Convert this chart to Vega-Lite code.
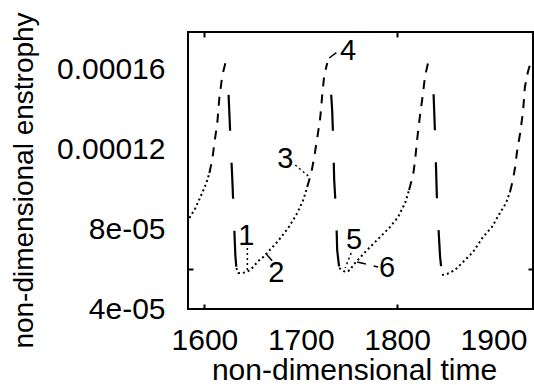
{
  "$schema": "https://vega.github.io/schema/vega-lite/v6.json",
  "autosize": "none",
  "width": 345,
  "height": 277,
  "padding": {"left": 188, "top": 32, "right": 1, "bottom": 76},
  "background": "white",
  "config": {
    "view": {"stroke": "black", "strokeWidth": 2},
    "font": "Liberation Sans",
    "axis": {"grid": false, "domain": false, "labelColor": "black", "titleColor": "black", "tickColor": "black", "labelFont": "Liberation Sans", "titleFont": "Liberation Sans", "titleFontWeight": "normal", "tickWidth": 2}
  },
  "datasets": {
    "curve": [
      {"seg": "A", "kind": "slow", "t": 1584.5, "v": 8.55e-5},
      {"seg": "A", "kind": "slow", "t": 1590.7, "v": 9.05e-5},
      {"seg": "A", "kind": "slow", "t": 1595.9, "v": 9.6e-5},
      {"seg": "A", "kind": "slow", "t": 1602.1, "v": 1.03e-4},
      {"seg": "A", "kind": "slow", "t": 1605.2, "v": 1.08e-4},
      {"seg": "B", "kind": "fast", "t": 1605.2, "v": 1.08e-4},
      {"seg": "B", "kind": "fast", "t": 1608.3, "v": 1.15e-4},
      {"seg": "B", "kind": "fast", "t": 1610.4, "v": 1.23e-4},
      {"seg": "B", "kind": "fast", "t": 1613.5, "v": 1.335e-4},
      {"seg": "B", "kind": "fast", "t": 1615.5, "v": 1.455e-4},
      {"seg": "B", "kind": "fast", "t": 1618.7, "v": 1.57e-4},
      {"seg": "B", "kind": "fast", "t": 1621.8, "v": 1.63e-4},
      {"seg": "C", "kind": "drop", "t": 1621.8, "v": 1.63e-4},
      {"seg": "C", "kind": "drop", "t": 1624.9, "v": 1.495e-4},
      {"seg": "C", "kind": "drop", "t": 1626.9, "v": 1.27e-4},
      {"seg": "C", "kind": "drop", "t": 1629.0, "v": 1.045e-4},
      {"seg": "C", "kind": "drop", "t": 1631.1, "v": 7.95e-5},
      {"seg": "C", "kind": "drop", "t": 1632.1, "v": 6.7e-5},
      {"seg": "C", "kind": "drop", "t": 1633.2, "v": 6.05e-5},
      {"seg": "D", "kind": "slow", "t": 1633.2, "v": 6.05e-5},
      {"seg": "D", "kind": "slow", "t": 1635.2, "v": 5.8e-5},
      {"seg": "D", "kind": "slow", "t": 1639.4, "v": 5.8e-5},
      {"seg": "D", "kind": "slow", "t": 1643.5, "v": 5.85e-5},
      {"seg": "D", "kind": "slow", "t": 1647.7, "v": 5.95e-5},
      {"seg": "D", "kind": "slow", "t": 1656.0, "v": 6.4e-5},
      {"seg": "D", "kind": "slow", "t": 1661.1, "v": 6.6e-5},
      {"seg": "D", "kind": "slow", "t": 1675.6, "v": 7.35e-5},
      {"seg": "D", "kind": "slow", "t": 1687.0, "v": 8.05e-5},
      {"seg": "D", "kind": "slow", "t": 1696.4, "v": 8.8e-5},
      {"seg": "D", "kind": "slow", "t": 1702.6, "v": 9.45e-5},
      {"seg": "D", "kind": "slow", "t": 1706.7, "v": 1.01e-4},
      {"seg": "E", "kind": "fast", "t": 1706.7, "v": 1.01e-4},
      {"seg": "E", "kind": "fast", "t": 1710.9, "v": 1.08e-4},
      {"seg": "E", "kind": "fast", "t": 1714.0, "v": 1.16e-4},
      {"seg": "E", "kind": "fast", "t": 1717.1, "v": 1.255e-4},
      {"seg": "E", "kind": "fast", "t": 1720.2, "v": 1.355e-4},
      {"seg": "E", "kind": "fast", "t": 1722.3, "v": 1.47e-4},
      {"seg": "E", "kind": "fast", "t": 1724.4, "v": 1.57e-4},
      {"seg": "E", "kind": "fast", "t": 1727.5, "v": 1.63e-4},
      {"seg": "F", "kind": "drop", "t": 1727.5, "v": 1.63e-4},
      {"seg": "F", "kind": "drop", "t": 1730.6, "v": 1.545e-4},
      {"seg": "F", "kind": "drop", "t": 1732.6, "v": 1.395e-4},
      {"seg": "F", "kind": "drop", "t": 1733.7, "v": 1.245e-4},
      {"seg": "F", "kind": "drop", "t": 1734.7, "v": 1.045e-4},
      {"seg": "F", "kind": "drop", "t": 1736.8, "v": 8.7e-5},
      {"seg": "F", "kind": "drop", "t": 1737.8, "v": 6.95e-5},
      {"seg": "F", "kind": "drop", "t": 1739.9, "v": 6.05e-5},
      {"seg": "G", "kind": "slow", "t": 1739.9, "v": 6.05e-5},
      {"seg": "G", "kind": "slow", "t": 1746.1, "v": 5.85e-5},
      {"seg": "G", "kind": "slow", "t": 1751.3, "v": 5.95e-5},
      {"seg": "G", "kind": "slow", "t": 1754.4, "v": 6.2e-5},
      {"seg": "G", "kind": "slow", "t": 1768.9, "v": 6.95e-5},
      {"seg": "G", "kind": "slow", "t": 1782.4, "v": 7.6e-5},
      {"seg": "G", "kind": "slow", "t": 1792.7, "v": 8.1e-5},
      {"seg": "G", "kind": "slow", "t": 1801.0, "v": 8.6e-5},
      {"seg": "G", "kind": "slow", "t": 1808.3, "v": 9.3e-5},
      {"seg": "G", "kind": "slow", "t": 1812.4, "v": 9.95e-5},
      {"seg": "H", "kind": "fast", "t": 1812.4, "v": 9.95e-5},
      {"seg": "H", "kind": "fast", "t": 1816.6, "v": 1.07e-4},
      {"seg": "H", "kind": "fast", "t": 1818.7, "v": 1.145e-4},
      {"seg": "H", "kind": "fast", "t": 1820.7, "v": 1.245e-4},
      {"seg": "H", "kind": "fast", "t": 1823.8, "v": 1.37e-4},
      {"seg": "H", "kind": "fast", "t": 1826.9, "v": 1.48e-4},
      {"seg": "H", "kind": "fast", "t": 1829.0, "v": 1.565e-4},
      {"seg": "H", "kind": "fast", "t": 1832.1, "v": 1.63e-4},
      {"seg": "I", "kind": "drop", "t": 1832.1, "v": 1.63e-4},
      {"seg": "I", "kind": "drop", "t": 1837.3, "v": 1.545e-4},
      {"seg": "I", "kind": "drop", "t": 1839.4, "v": 1.27e-4},
      {"seg": "I", "kind": "drop", "t": 1841.5, "v": 9.2e-5},
      {"seg": "I", "kind": "drop", "t": 1844.6, "v": 6.6e-5},
      {"seg": "I", "kind": "drop", "t": 1846.6, "v": 5.7e-5},
      {"seg": "J", "kind": "slow", "t": 1846.6, "v": 5.7e-5},
      {"seg": "J", "kind": "slow", "t": 1851.8, "v": 5.75e-5},
      {"seg": "J", "kind": "slow", "t": 1858.0, "v": 5.9e-5},
      {"seg": "J", "kind": "slow", "t": 1862.2, "v": 6.05e-5},
      {"seg": "J", "kind": "slow", "t": 1868.4, "v": 6.35e-5},
      {"seg": "J", "kind": "slow", "t": 1878.8, "v": 6.85e-5},
      {"seg": "J", "kind": "slow", "t": 1889.1, "v": 7.6e-5},
      {"seg": "J", "kind": "slow", "t": 1898.4, "v": 8.1e-5},
      {"seg": "J", "kind": "slow", "t": 1906.7, "v": 8.8e-5},
      {"seg": "J", "kind": "slow", "t": 1913.0, "v": 9.3e-5},
      {"seg": "J", "kind": "slow", "t": 1917.1, "v": 9.85e-5},
      {"seg": "K", "kind": "fast", "t": 1917.1, "v": 9.85e-5},
      {"seg": "K", "kind": "fast", "t": 1920.2, "v": 1.045e-4},
      {"seg": "K", "kind": "fast", "t": 1922.3, "v": 1.105e-4},
      {"seg": "K", "kind": "fast", "t": 1924.4, "v": 1.185e-4},
      {"seg": "K", "kind": "fast", "t": 1927.5, "v": 1.275e-4},
      {"seg": "K", "kind": "fast", "t": 1930.6, "v": 1.385e-4},
      {"seg": "K", "kind": "fast", "t": 1932.6, "v": 1.51e-4},
      {"seg": "K", "kind": "fast", "t": 1935.7, "v": 1.585e-4},
      {"seg": "K", "kind": "fast", "t": 1937.8, "v": 1.62e-4},
      {"seg": "K", "kind": "fast", "t": 1940.9, "v": 1.615e-4}
    ],
    "leaders": [
      {"label": "1", "t": 1644.6, "v": 7.05e-5, "t2": 1644.6, "v2": 5.95e-5},
      {"label": "2", "t": 1664.2, "v": 6.75e-5, "t2": 1670.5, "v2": 6.4e-5},
      {"label": "3", "t": 1694.3, "v": 1.12e-4, "t2": 1707.8, "v2": 1.065e-4},
      {"label": "4", "t": 1729.5, "v": 1.655e-4, "t2": 1737.8, "v2": 1.685e-4},
      {"label": "5", "t": 1752.3, "v": 6.8e-5, "t2": 1746.1, "v2": 6.05e-5},
      {"label": "6", "t": 1758.5, "v": 6.35e-5, "t2": 1780.3, "v2": 6.1e-5}
    ],
    "labels": [
      {"label": "1", "t": 1643.5, "v": 7.65e-5},
      {"label": "2", "t": 1674.6, "v": 5.8e-5},
      {"label": "3", "t": 1683.9, "v": 1.15e-4},
      {"label": "4", "t": 1749.2, "v": 1.69e-4},
      {"label": "5", "t": 1755.4, "v": 7.45e-5},
      {"label": "6", "t": 1789.6, "v": 6.05e-5}
    ]
  },
  "resolve": {"axis": {"x": "independent", "y": "independent"}},
  "layer": [
    {
      "data": {"name": "curve"},
      "transform": [{"filter": "datum.kind !== 'drop'"}],
      "mark": {"type": "line", "color": "black", "strokeWidth": 2, "clip": true},
      "encoding": {
        "x": {"field": "t", "type": "quantitative",
              "scale": {"domain": [1583, 1941], "nice": false, "zero": false},
              "axis": {"orient": "bottom", "values": [1600, 1700, 1800, 1900], "format": "d",
                       "labelFontSize": 30, "labelPadding": 21, "labelFlush": false, "labelOverlap": false,
                       "tickSize": -5,
                       "tickOpacity": {"condition": {"test": "datum.value == 1600 || datum.value == 1800", "value": 1}, "value": 0},
                       "title": "non-dimensional time", "titleFontSize": 30, "titlePadding": 0, "titleX": 166}},
        "y": {"field": "v", "type": "quantitative",
              "scale": {"domain": [4e-5, 1.785e-4], "nice": false, "zero": false},
              "axis": {"orient": "left", "values": [4e-5, 6e-5, 8e-5, 1.2e-4, 1.6e-4],
                       "labelExpr": "abs(datum.value - 0.00006) < 1e-9 ? '' : (datum.value < 0.0001 ? replace(format(datum.value, '.0e'), 'e-5', 'e-05') : format(datum.value, '.5f'))",
                       "labelFontSize": 30, "labelPadding": 28, "labelOverlap": false,
                       "tickSize": -5,
                       "tickOpacity": {"condition": {"test": "abs(datum.value - 0.00006) < 1e-9", "value": 1}, "value": 0},
                       "title": "non-dimensional enstrophy", "titleFontSize": 28, "titlePadding": 18, "titleY": 148}},
        "detail": {"field": "seg"},
        "strokeDash": {"field": "kind", "type": "nominal", "scale": {"domain": ["slow", "fast"], "range": [[2, 3], [9, 8]]}, "legend": null}
      }
    },
    {
      "data": {"name": "curve"},
      "transform": [{"filter": "datum.kind === 'drop'"}],
      "mark": {"type": "line", "color": "black", "strokeWidth": 2.2, "strokeDash": [36, 32], "strokeDashOffset": 36, "clip": true},
      "encoding": {
        "x": {"field": "t", "type": "quantitative", "scale": {"domain": [1583, 1941], "nice": false, "zero": false}, "axis": null},
        "y": {"field": "v", "type": "quantitative", "scale": {"domain": [4e-5, 1.785e-4], "nice": false, "zero": false}, "axis": null},
        "detail": {"field": "seg"}
      }
    },
    {
      "data": {"name": "leaders"},
      "mark": {"type": "rule", "color": "black", "strokeWidth": 1.5},
      "encoding": {
        "x": {"field": "t", "type": "quantitative", "scale": {"domain": [1583, 1941], "nice": false, "zero": false}, "axis": null},
        "y": {"field": "v", "type": "quantitative", "scale": {"domain": [4e-5, 1.785e-4], "nice": false, "zero": false}, "axis": null},
        "x2": {"field": "t2"},
        "y2": {"field": "v2"},
        "strokeDash": {"field": "label", "type": "nominal", "legend": null,
                       "scale": {"domain": ["1", "2", "3", "4", "5", "6"], "range": [[1, 0], [2, 2], [2, 2], [2, 2], [2, 2], [2, 2]]}}
      }
    },
    {
      "data": {"name": "labels"},
      "mark": {"type": "text", "color": "black", "fontSize": 29, "font": "Liberation Sans", "align": "center", "baseline": "middle"},
      "encoding": {
        "x": {"field": "t", "type": "quantitative", "scale": {"domain": [1583, 1941], "nice": false, "zero": false},
              "axis": {"orient": "top", "values": [1600, 1800], "labels": false, "title": null, "tickSize": -5, "domain": false}},
        "y": {"field": "v", "type": "quantitative", "scale": {"domain": [4e-5, 1.785e-4], "nice": false, "zero": false},
              "axis": {"orient": "right", "values": [6e-5], "labels": false, "title": null, "tickSize": -5, "domain": false}},
        "text": {"field": "label"}
      }
    }
  ]
}
